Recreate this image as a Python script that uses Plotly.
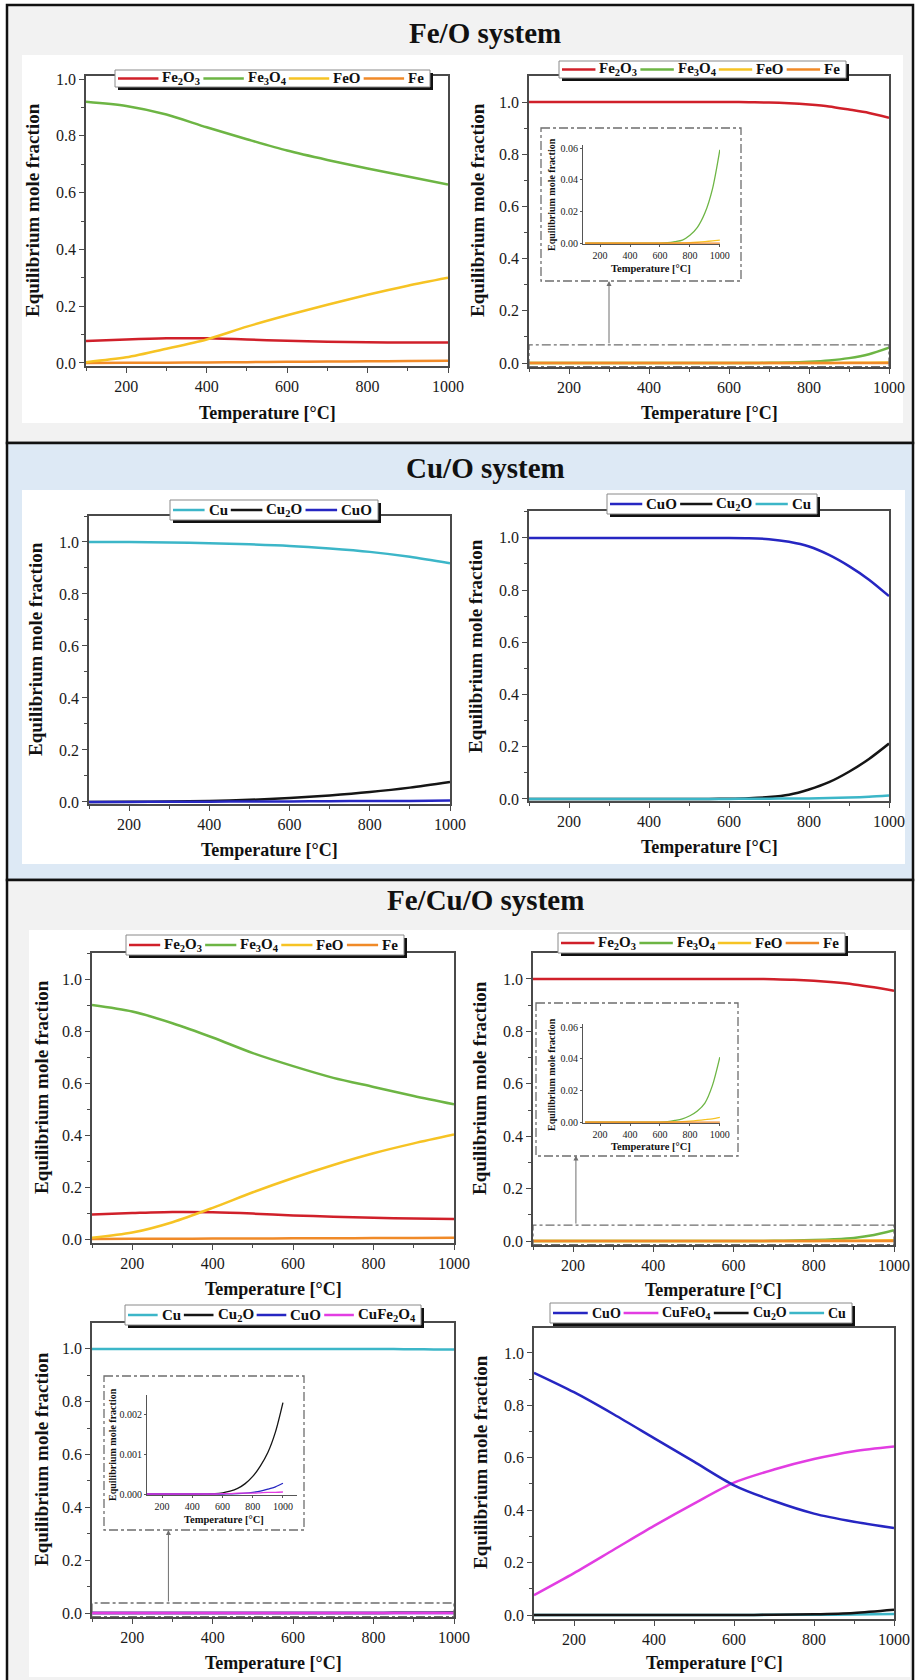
import plotly.graph_objects as go

W, H = 918, 1680
SERIF = "Liberation Serif, serif"

# ---------------------------------------------------------------- data
T10 = [100, 200, 300, 400, 500, 600, 700, 800, 900, 1000]
T19 = [100, 150, 200, 250, 300, 350, 400, 450, 500, 550,
       600, 650, 700, 750, 800, 850, 900, 950, 1000]

# Fe/O system - left panel
feo_left_Fe2O3 = [0.077, 0.083, 0.087, 0.087, 0.083, 0.078, 0.075, 0.073, 0.072, 0.072]
feo_left_Fe3O4 = [0.920, 0.905, 0.875, 0.830, 0.788, 0.748, 0.715, 0.685, 0.657, 0.628]
feo_left_FeO = [0.003, 0.020, 0.050, 0.083, 0.128, 0.168, 0.205, 0.240, 0.272, 0.300]
feo_left_Fe = [0.000, 0.001, 0.001, 0.002, 0.003, 0.004, 0.005, 0.006, 0.007, 0.008]

# Fe/O system - right panel (and its inset)
feo_right_Fe2O3 = [1.0, 1.0, 1.0, 1.0, 1.0, 1.0, 1.0, 1.0, 1.0, 1.0,
                   1.0, 0.999, 0.998, 0.995, 0.990, 0.983, 0.971, 0.958, 0.940]
feo_right_Fe3O4 = [0.0, 0.0, 0.0, 0.0, 0.0, 0.0, 0.0, 0.0, 0.0, 0.0,
                   0.0, 0.0003, 0.001, 0.002, 0.005, 0.010, 0.019, 0.034, 0.059]
feo_right_FeO = [0.0, 0.0, 0.0, 0.0, 0.0, 0.0, 0.0, 0.0, 0.0, 0.0,
                 0.0, 0.0, 0.0001, 0.0002, 0.0003, 0.0006, 0.001, 0.0015, 0.002]
feo_right_Fe = [0.0] * 19

# Cu/O system - left panel
cuo_left_Cu = [1.000, 0.9995, 0.998, 0.995, 0.991, 0.985, 0.975, 0.962, 0.943, 0.918]
cuo_left_Cu2O = [0.000, 0.0005, 0.0015, 0.004, 0.008, 0.015, 0.025, 0.038, 0.055, 0.077]
cuo_left_CuO = [0.000, 0.000, 0.0005, 0.001, 0.0015, 0.002, 0.003, 0.004, 0.004, 0.005]

# Cu/O system - right panel
cuo_right_CuO = [1.0, 1.0, 1.0, 1.0, 1.0, 1.0, 1.0, 1.0, 1.0, 1.0,
                 1.0, 0.999, 0.995, 0.985, 0.967, 0.935, 0.892, 0.840, 0.777]
cuo_right_Cu2O = [0.0, 0.0, 0.0, 0.0, 0.0, 0.0, 0.0, 0.0, 0.0, 0.0,
                  0.001, 0.003, 0.007, 0.016, 0.036, 0.064, 0.104, 0.153, 0.212]
cuo_right_Cu = [0.0, 0.0, 0.0, 0.0, 0.0, 0.0, 0.0, 0.0, 0.0, 0.0,
                0.0, 0.0005, 0.001, 0.0015, 0.002, 0.0035, 0.005, 0.008, 0.013]

# Fe/Cu/O system - top left panel
fecuo_tl_Fe2O3 = [0.095, 0.100, 0.104, 0.103, 0.098, 0.091, 0.086, 0.082, 0.079, 0.077]
fecuo_tl_Fe3O4 = [0.900, 0.875, 0.830, 0.775, 0.715, 0.665, 0.620, 0.585, 0.550, 0.518]
fecuo_tl_FeO = [0.005, 0.025, 0.065, 0.120, 0.180, 0.235, 0.285, 0.330, 0.368, 0.402]
fecuo_tl_Fe = [0.000, 0.001, 0.001, 0.002, 0.002, 0.003, 0.003, 0.004, 0.004, 0.005]

# Fe/Cu/O system - top right panel (and its inset)
fecuo_tr_Fe2O3 = [1.0, 1.0, 1.0, 1.0, 1.0, 1.0, 1.0, 1.0, 1.0, 1.0,
                  1.0, 1.0, 0.999, 0.997, 0.993, 0.987, 0.979, 0.968, 0.955]
fecuo_tr_Fe3O4 = [0.0, 0.0, 0.0, 0.0, 0.0, 0.0, 0.0, 0.0, 0.0, 0.0,
                  0.0, 0.0003, 0.001, 0.002, 0.004, 0.007, 0.012, 0.023, 0.041]
fecuo_tr_FeO = [0.0, 0.0, 0.0, 0.0, 0.0, 0.0, 0.0, 0.0, 0.0, 0.0,
                0.0, 0.0, 0.0001, 0.0003, 0.0006, 0.001, 0.0015, 0.002, 0.003]
fecuo_tr_Fe = [0.0] * 19

# Fe/Cu/O system - bottom left panel (and its inset)
fecuo_bl_Cu = [1.0, 1.0, 1.0, 1.0, 1.0, 1.0, 1.0, 1.0, 1.0, 1.0,
               1.0, 1.0, 0.9998, 0.9996, 0.9994, 0.9991, 0.9987, 0.9981, 0.9973]
fecuo_bl_Cu2O = [0.0, 0.0, 0.0, 0.0, 0.0, 0.0, 0.0, 0.0, 0.000005, 0.00001,
                 0.00003, 0.00007, 0.00014, 0.00026, 0.00044, 0.0007, 0.00104, 0.00155, 0.00229]
fecuo_bl_CuO = [0.0, 0.0, 0.0, 0.0, 0.0, 0.0, 0.0, 0.0, 0.0, 0.0,
                0.0, 0.000005, 0.00001, 0.00002, 0.00004, 0.00007, 0.00012, 0.00018, 0.00027]
fecuo_bl_CuFe2O4 = [0.0, 0.0, 0.0, 0.0, 0.0, 0.0, 0.0, 0.0, 0.0, 0.0,
                    0.00001, 0.00001, 0.00002, 0.00002, 0.00002, 0.00003, 0.00004, 0.00004, 0.00005]

# Fe/Cu/O system - bottom right panel
fecuo_br_CuO = [0.924, 0.850, 0.765, 0.675, 0.585, 0.495, 0.435, 0.387, 0.356, 0.332]
fecuo_br_CuFeO4 = [0.076, 0.160, 0.250, 0.340, 0.425, 0.505, 0.555, 0.595, 0.625, 0.643]
fecuo_br_Cu2O = [0.0, 0.0, 0.0, 0.0, 0.0, 0.0005, 0.001, 0.003, 0.008, 0.020]
fecuo_br_Cu = [0.0, 0.0, 0.0, 0.0, 0.0, 0.0, 0.001, 0.001, 0.002, 0.004]

section_titles = ["Fe/O system", "Cu/O system", "Fe/Cu/O system"]
x_title = "Temperature [°C]"
y_title = "Equilibrium mole fraction"

# labels (html, approximate width in em for bold Times)
LBL = {
    "Fe2O3": ("Fe<sub>2</sub>O<sub>3</sub>", 2.53),
    "Fe3O4": ("Fe<sub>3</sub>O<sub>4</sub>", 2.53),
    "FeO": ("FeO", 1.83),
    "Fe": ("Fe", 1.06),
    "Cu": ("Cu", 1.28),
    "Cu2O": ("Cu<sub>2</sub>O", 2.41),
    "CuO": ("CuO", 2.06),
    "CuFe2O4": ("CuFe<sub>2</sub>O<sub>4</sub>", 3.81),
    "CuFeO4": ("CuFeO<sub>4</sub>", 3.46),
}
COL = {
    "Fe2O3": "#d0202a", "Fe3O4": "#6db544", "FeO": "#f6c324", "Fe": "#f08a28",
    "Cu": "#3cb6c8", "Cu2O": "#151515", "CuO": "#2626c2",
    "CuFe2O4": "#e23de2", "CuFeO4": "#e23de2",
}

# ---------------------------------------------------------------- helpers
def px_x(px):
    return px / W


def px_y(py):
    return 1 - py / H


fig = go.Figure()
layout = dict(width=W, height=H, margin=dict(l=0, r=0, t=0, b=0),
              paper_bgcolor="white", plot_bgcolor="rgba(0,0,0,0)",
              showlegend=False, shapes=[], annotations=[])
shapes = layout["shapes"]
anns = layout["annotations"]


def axkey(i):
    return ("xaxis", "yaxis") if i == 1 else (f"xaxis{i}", f"yaxis{i}")


def axref(i):
    return ("x", "y") if i == 1 else (f"x{i}", f"y{i}")


def add_main_axes(i, l, r, t, b, yr):
    xk, yk = axkey(i)
    xr_, yr_ = axref(i)
    common = dict(showgrid=False, zeroline=False, showline=True, mirror=True,
                  linecolor="#4a4a4a", linewidth=1.5, ticks="outside", ticklen=5,
                  tickwidth=1.2, tickcolor="#4a4a4a",
                  tickfont=dict(family=SERIF, size=16, color="#1a1a1a"),
                  automargin=False, fixedrange=True)
    layout[xk] = dict(common, domain=[px_x(l), px_x(r)], range=[100, 1000],
                      anchor=yr_, tick0=0, dtick=200,
                      minor=dict(ticks="outside", ticklen=3, tick0=0, dtick=100,
                                 tickcolor="#4a4a4a"))
    layout[yk] = dict(common, domain=[px_y(b), px_y(t)], range=yr,
                      anchor=xr_, tick0=0, dtick=0.2, tickformat=".1f",
                      minor=dict(ticks="outside", ticklen=3, tick0=0, dtick=0.1,
                                 tickcolor="#4a4a4a"))


def add_inset_axes(i, l, r, t, b, xr, yr, ydtick, yfmt):
    xk, yk = axkey(i)
    xr_, yr_ = axref(i)
    common = dict(showgrid=False, zeroline=False, showline=True, mirror=False,
                  linecolor="#555555", linewidth=1, ticks="outside", ticklen=2,
                  tickwidth=1, tickcolor="#555555",
                  tickfont=dict(family=SERIF, size=10, color="#1a1a1a"),
                  automargin=False, fixedrange=True)
    layout[xk] = dict(common, domain=[px_x(l), px_x(r)], range=xr, anchor=yr_,
                      tick0=0, dtick=200)
    layout[yk] = dict(common, domain=[px_y(b), px_y(t)], range=yr, anchor=xr_,
                      tick0=0, dtick=ydtick, tickformat=yfmt)


def add_line(i, x, y, key, width=2.5):
    xr_, yr_ = axref(i)
    fig.add_trace(go.Scatter(x=x, y=y, mode="lines", xaxis=xr_, yaxis=yr_,
                             line=dict(color=COL[key], width=width, shape="spline",
                                       smoothing=0.8),
                             hoverinfo="skip", name=key))


def text(xpx, ypx, txt, size, bold=True, angle=0, xanchor="center", color="#111111"):
    anns.append(dict(x=px_x(xpx), y=px_y(ypx), xref="paper", yref="paper",
                     text=f"<b>{txt}</b>" if bold else txt, showarrow=False,
                     xanchor=xanchor, yanchor="middle", textangle=angle,
                     font=dict(family=SERIF, size=size, color=color)))


def rect(x0, y0, x1, y1, fill=None, line_color=None, lw=0, layer="below", dash=None):
    s = dict(type="rect", xref="paper", yref="paper",
             x0=px_x(x0), x1=px_x(x1), y0=px_y(y0), y1=px_y(y1), layer=layer,
             line=dict(width=lw, color=line_color or "rgba(0,0,0,0)"))
    if dash:
        s["line"]["dash"] = dash
    if fill:
        s["fillcolor"] = fill
    shapes.append(s)


def legend(left, top, width, height, keys, fs=15):
    n = len(keys)
    pad, g1, g2 = 3, 3, 4
    tw = [LBL[k][1] * fs for k in keys]
    L = (width - 2 * pad - sum(tw) - n * (g1 + g2)) / n
    rect(left + 3, top + 3, left + width + 3, top + height + 3, fill="#111111",
         layer="above")
    rect(left, top, left + width, top + height, fill="white",
         line_color="#8a8a8a", lw=1, layer="above")
    ym = top + height / 2
    x = left + pad
    for k, w in zip(keys, tw):
        shapes.append(dict(type="line", xref="paper", yref="paper", layer="above",
                           x0=px_x(x), x1=px_x(x + L), y0=px_y(ym), y1=px_y(ym),
                           line=dict(color=COL[k], width=2.5)))
        text(x + L + g1 - 1, ym, LBL[k][0], fs, xanchor="left")
        x += L + g1 + w + g2


def zoom_marks(i, y_top, y_bot, arrow_x, arrow_head):
    xr_, yr_ = axref(i)
    shapes.append(dict(type="rect", xref=xr_, yref=yr_, x0=100, x1=1000,
                       y0=y_bot, y1=y_top, layer="above",
                       line=dict(color="#6e6e6e", width=1.3, dash="dashdot")))
    anns.append(dict(x=arrow_x, y=arrow_head, ax=arrow_x, ay=y_top,
                     xref=xr_, yref=yr_, axref=xr_, ayref=yr_, text="",
                     showarrow=True, arrowhead=2, arrowsize=1, arrowwidth=1,
                     arrowcolor="#6e6e6e"))


# ---------------------------------------------------------------- backgrounds
rect(7, 5, 913, 443, fill="#f2f2f2", line_color="#111111", lw=2.5)
rect(7, 443, 913, 880, fill="#dde9f5", line_color="#111111", lw=2.5)
rect(7, 880, 913, 1690, fill="#f2f2f2", line_color="#111111", lw=2.5)
rect(22, 55, 903, 423, fill="white")
rect(22, 490, 905, 864, fill="white")
rect(29, 930, 910, 1677, fill="white")

text(485, 33, section_titles[0], 29)
text(485, 468, section_titles[1], 29)
text(485, 900, section_titles[2], 29)

# ---------------------------------------------------------------- panels
main_panels = [
    # idx, l, r, t, b, yrange, ytitle(x,y), xtitle(x,y)
    (1, 86, 448, 76, 366, [-0.0106, 1.0106], (32, 210), (267, 413)),
    (2, 529, 889, 76, 367, [-0.015, 1.0996], (477, 210), (709, 413)),
    (3, 89, 450, 516, 804, [-0.008, 1.10], (36, 649), (269, 850)),
    (4, 529, 889, 511, 801, [-0.008, 1.103], (475, 646), (709, 847)),
    (5, 92, 454, 953, 1243, [-0.015, 1.10], (41, 1087), (273, 1289)),
    (6, 533, 894, 953, 1245, [-0.015, 1.099], (479, 1088), (713, 1290)),
    (7, 92, 454, 1323, 1617, [-0.015, 1.098], (41, 1459), (273, 1663)),
    (8, 534, 894, 1328, 1619, [-0.015, 1.095], (480, 1462), (714, 1663)),
]
for i, l, r, t, b, yr, yt, xt in main_panels:
    add_main_axes(i, l, r, t, b, yr)
    text(yt[0], yt[1], y_title, 19, angle=-90)
    text(xt[0], xt[1], x_title, 18)

# insets
add_inset_axes(9, 583, 720, 145, 244, [86, 1001], [-0.0005, 0.062], 0.02, ".2f")
add_inset_axes(10, 583, 720, 1024, 1123, [86, 1001], [-0.0006, 0.0619], 0.02, ".2f")
add_inset_axes(11, 147, 297, 1395, 1495, [100, 1093], [-0.000025, 0.00248], 0.001, ".3f")
rect(541, 128, 741, 281, line_color="#6e6e6e", lw=1.3, layer="above", dash="dashdot")
rect(536, 1003, 738, 1156, line_color="#6e6e6e", lw=1.3, layer="above", dash="dashdot")
rect(104, 1376, 304, 1530, line_color="#6e6e6e", lw=1.3, layer="above", dash="dashdot")
text(551, 195, y_title, 10, angle=-90)
text(651, 268, x_title, 10.5)
text(551, 1075, y_title, 10, angle=-90)
text(651, 1146, x_title, 10.5)
text(112, 1445, y_title, 10, angle=-90)
text(224, 1519, x_title, 10.5)

zoom_marks(2, 0.070, -0.0135, 300, 0.314)
zoom_marks(6, 0.061, -0.0135, 207, 0.326)
zoom_marks(7, 0.038, -0.0135, 290, 0.314)

# ---------------------------------------------------------------- traces
add_line(1, T10, feo_left_Fe, "Fe")
add_line(1, T10, feo_left_Fe2O3, "Fe2O3")
add_line(1, T10, feo_left_FeO, "FeO")
add_line(1, T10, feo_left_Fe3O4, "Fe3O4")

add_line(2, T19, feo_right_Fe3O4, "Fe3O4")
add_line(2, T19, feo_right_FeO, "FeO")
add_line(2, T19, feo_right_Fe, "Fe")
add_line(2, T19, feo_right_Fe2O3, "Fe2O3")
add_line(9, T19, feo_right_Fe3O4, "Fe3O4", 1.3)
add_line(9, T19, feo_right_FeO, "FeO", 1.3)
add_line(9, T19, feo_right_Fe, "Fe", 1.3)

add_line(3, T10, cuo_left_Cu2O, "Cu2O")
add_line(3, T10, cuo_left_CuO, "CuO")
add_line(3, T10, cuo_left_Cu, "Cu")

add_line(4, T19, cuo_right_Cu2O, "Cu2O")
add_line(4, T19, cuo_right_Cu, "Cu")
add_line(4, T19, cuo_right_CuO, "CuO")

add_line(5, T10, fecuo_tl_Fe, "Fe")
add_line(5, T10, fecuo_tl_Fe2O3, "Fe2O3")
add_line(5, T10, fecuo_tl_FeO, "FeO")
add_line(5, T10, fecuo_tl_Fe3O4, "Fe3O4")

add_line(6, T19, fecuo_tr_Fe3O4, "Fe3O4")
add_line(6, T19, fecuo_tr_FeO, "FeO")
add_line(6, T19, fecuo_tr_Fe, "Fe")
add_line(6, T19, fecuo_tr_Fe2O3, "Fe2O3")
add_line(10, T19, fecuo_tr_Fe3O4, "Fe3O4", 1.3)
add_line(10, T19, fecuo_tr_FeO, "FeO", 1.3)
add_line(10, T19, fecuo_tr_Fe, "Fe", 1.3)

add_line(7, T19, fecuo_bl_Cu2O, "Cu2O")
add_line(7, T19, fecuo_bl_CuO, "CuO")
add_line(7, T19, fecuo_bl_CuFe2O4, "CuFe2O4")
add_line(7, T19, fecuo_bl_Cu, "Cu")
add_line(11, T19, fecuo_bl_Cu2O, "Cu2O", 1.3)
add_line(11, T19, fecuo_bl_CuO, "CuO", 1.3)
add_line(11, T19, fecuo_bl_CuFe2O4, "CuFe2O4", 1.3)

add_line(8, T10, fecuo_br_Cu, "Cu")
add_line(8, T10, fecuo_br_Cu2O, "Cu2O")
add_line(8, T10, fecuo_br_CuFeO4, "CuFeO4")
add_line(8, T10, fecuo_br_CuO, "CuO")

# ---------------------------------------------------------------- legends
legend(115, 70, 315, 17, ["Fe2O3", "Fe3O4", "FeO", "Fe"])
legend(559, 61, 287, 17, ["Fe2O3", "Fe3O4", "FeO", "Fe"])
legend(170, 500, 208, 20, ["Cu", "Cu2O", "CuO"])
legend(607, 494, 210, 20, ["CuO", "Cu2O", "Cu"])
legend(126, 935, 278, 20, ["Fe2O3", "Fe3O4", "FeO", "Fe"])
legend(558, 933, 287, 20, ["Fe2O3", "Fe3O4", "FeO", "Fe"])
legend(125, 1305, 296, 20, ["Cu", "Cu2O", "CuO", "CuFe2O4"])
legend(550, 1303, 302, 20, ["CuO", "CuFeO4", "Cu2O", "Cu"], fs=14)

fig.update_layout(**layout)
fig.write_html("out.html")
